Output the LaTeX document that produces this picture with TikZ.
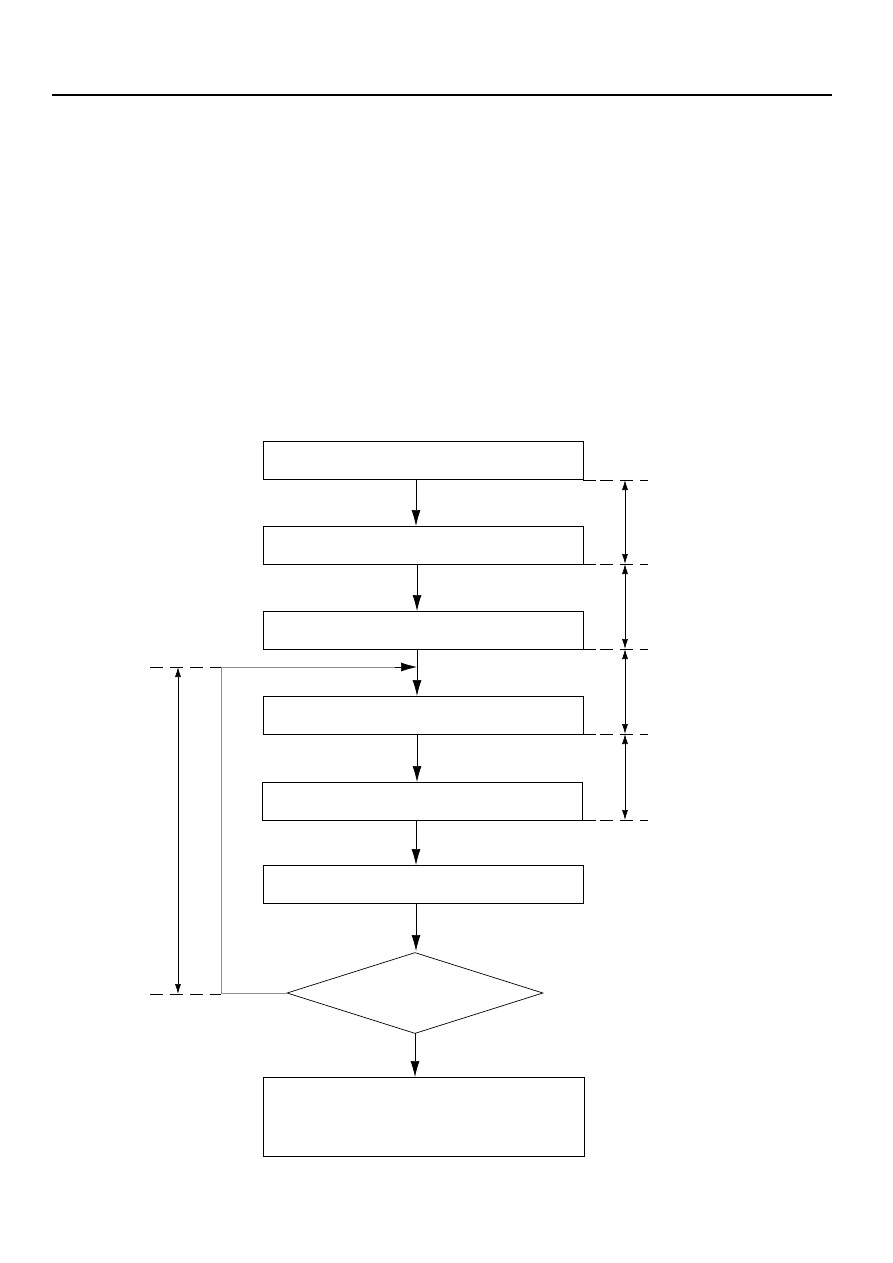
\documentclass[tikz,border=0pt]{standalone}
\usetikzlibrary{arrows.meta,shapes.geometric}
\begin{document}
\begin{tikzpicture}[x=1pt,y=-1pt,
  stepbox/.style={draw,line width=0.8pt,minimum width=320pt,minimum height=38pt,inner sep=0pt},
  flow/.style={draw,line width=0.7pt,-{Latex[length=16pt,width=9pt]}},
  loopline/.style={draw=black!45,line width=1pt},
  dimline/.style={line width=0.7pt,{Latex[length=10pt,width=6pt]}-{Latex[length=10pt,width=6pt]}},
  dashext/.style={line width=0.7pt,dash pattern=on 13pt off 7pt}]
\useasboundingbox (0,0) rectangle (892,1263);
\draw[line width=2pt] (52,95) -- (832,95);
\node[stepbox] (b1) at (423,460.5) {};
\node[stepbox] (b2) at (423,545) {};
\node[stepbox] (b3) at (423,630) {};
\node[stepbox] (b4) at (423,715) {};
\node[stepbox] (b5) at (422,801) {};
\node[stepbox] (b6) at (423,884) {};
\node[draw,line width=0.7pt,diamond,aspect=3.16,minimum width=256pt,minimum height=81pt,inner sep=0pt] (d) at (415,993) {};
\node[stepbox,minimum width=321pt,minimum height=79pt] (b7) at (423.5,1116.5) {};
\draw[flow] (416,480) -- (416,526);
\draw[flow] (417,564) -- (417,611);
\draw[flow] (417,649) -- (417,696);
\draw[flow] (417,734) -- (417,782);
\draw[flow] (416,820) -- (416,865);
\draw[flow] (416,903) -- (416,951);
\draw[flow] (415,1033) -- (415,1077);
% loop
\coordinate (lb) at (221,993);
\coordinate (lt) at (221,667);
\draw[loopline] (d.west) -- (lb) -- (lt) -- (400,667);
\draw[draw=black,line width=0.7pt,-{Latex[length=16pt,width=9pt]}] (395,667) -- (417,667);
% right dimension extensions
\foreach \y in {480,564,649,734,820}{
  \draw[line width=0.8pt] (583,\y) -- (596,\y);
  \draw[dashext] (600,\y) -- (648,\y);
}
\draw[dimline] (625,480) -- (625,564);
\draw[dimline] (625,564) -- (625,649);
\draw[dimline] (625,649) -- (625,734);
\draw[dimline] (625,734) -- (625,820);
% left dimension
\draw[dashext] (150,667) -- (221,667);
\draw[dashext] (150,994) -- (221,994);
\draw[dimline] (178,667) -- (178,994);
\end{tikzpicture}
\end{document}
